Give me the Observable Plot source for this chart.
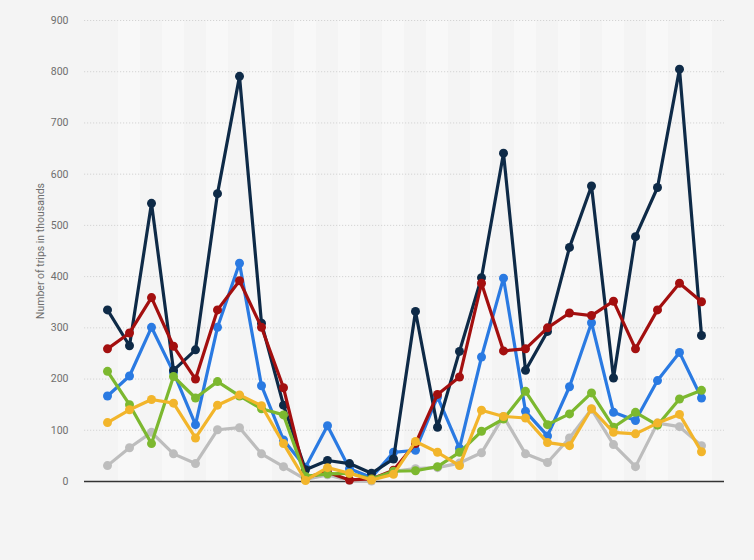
<!DOCTYPE html>
<html><head><meta charset="utf-8">
<script src="https://cdn.jsdelivr.net/npm/d3@7"></script>
<script src="https://cdn.jsdelivr.net/npm/@observablehq/plot@0.6"></script>
<style>
html,body{margin:0;padding:0;background:#f4f4f4;}
#chart{width:754px;height:560px;}
</style></head><body><div id="chart"></div>
<script>
const periods = ["1","2","3","4","5","6","7","8","9","10","11","12","13","14","15","16","17","18","19","20","21","22","23","24","25","26","27","28"];
const yTicks = [0,100,200,300,400,500,600,700,800,900];

const seriesNames = ["Series 1","Series 2","Series 3","Series 4","Series 5","Series 6"];
const seriesColors = ["#0e2a47","#2a7ae2","#a30f0f","#7cb82f","#f2b52b","#bdbdbd"];

const series1 = [335,265,543,217,257,562,791,309,149,23,41,35,16,44,332,106,254,398,641,217,293,457,577,202,478,574,805,285];
const series2 = [167,206,301,213,111,301,426,187,81,28,109,25,8,57,61,165,65,243,397,137,89,185,310,135,119,197,252,163];
const series3 = [259,290,359,264,200,335,392,301,183,8,18,3,5,22,74,170,204,387,255,259,300,329,324,352,259,335,387,351];
const series4 = [215,150,74,205,163,195,167,142,130,10,15,16,5,20,21,29,57,98,122,176,111,132,173,106,135,110,161,178];
const series5 = [115,140,160,153,85,149,169,148,74,2,27,16,3,14,78,57,31,139,127,124,76,70,142,96,93,114,131,58];
const series6 = [31,66,96,54,35,101,105,54,29,4,13,2,1,20,25,27,36,56,127,54,37,85,141,72,29,114,107,70];

const seriesValues = [series1, series2, series3, series4, series5, series6];
// drawing order (bottom to top)
const drawOrder = [5, 1, 0, 2, 3, 4];

const rows = [];
seriesValues.forEach((vals, s) => vals.forEach((v, i) => rows.push({series: seriesNames[s], period: periods[i], value: v})));

const stripes = periods.filter((d, i) => i % 2 === 1);

const marks = [
  Plot.barY(stripes, {x: d => d, y1: 0, y2: 900, fill: "#f8f8f8", inset: 0}),
  Plot.ruleY(yTicks.filter(d => d > 0), {stroke: "#d4d4d4", strokeDasharray: "1.2,1.8", strokeWidth: 1}),
  Plot.ruleY([0], {stroke: "#333333", strokeWidth: 1.3})
];
for (const s of drawOrder) {
  const name = seriesNames[s];
  const data = rows.filter(r => r.series === name);
  marks.push(Plot.line(data, {x: "period", y: "value", stroke: seriesColors[s], strokeWidth: 3.2, strokeLinejoin: "round", strokeLinecap: "round"}));
  marks.push(Plot.dot(data, {x: "period", y: "value", fill: seriesColors[s], r: 4.5, stroke: "none"}));
}

const chart = Plot.plot({
  width: 754,
  height: 560,
  marginLeft: 84,
  marginRight: 30,
  marginTop: 20,
  marginBottom: 79,
  style: {background: "#f4f4f4", fontFamily: "Roboto, Arial, sans-serif", fontSize: "10.5px", color: "#6e6e6e"},
  x: {type: "band", domain: periods, padding: 0, axis: null},
  y: {domain: [0, 900], ticks: yTicks, tickSize: 0, tickPadding: 16, label: "Number of trips in thousands", labelAnchor: "center", labelOffset: 48, labelArrow: "none"},
  marks
});
document.getElementById("chart").appendChild(chart);
</script>
</body></html>
